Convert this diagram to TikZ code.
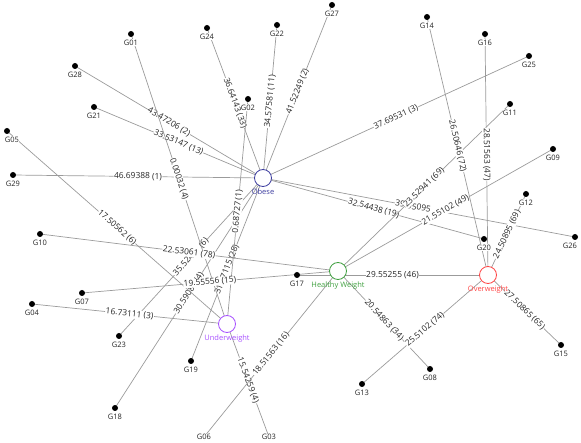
\documentclass[tikz,border=0pt]{standalone}
\usepackage{fontspec}
\setmainfont{Open Sans}
\usepackage{xcolor}
\usetikzlibrary{backgrounds}

\definecolor{obesecol}{RGB}{62,62,160}
\definecolor{healthycol}{RGB}{64,160,64}
\definecolor{overcol}{RGB}{255,70,70}
\definecolor{undercol}{RGB}{168,82,255}
\definecolor{linkcol}{RGB}{155,155,155}

\begin{document}
\begin{tikzpicture}[x=1pt, y=-1pt,
    leaf/.style={circle, fill=black, inner sep=0pt, minimum size=6pt},
    leaftext/.style={fill=white, inner sep=0.4pt, text=black!85, label distance=2pt,
        font=\fontsize{7.5}{8}\selectfont},
    hub/.style={circle, draw=#1, fill=white, line width=0.8pt, minimum size=17pt, inner sep=0pt},
    hubtext/.style={text=#1, inner sep=0.4pt, label distance=1.5pt,
        font=\fontsize{7.5}{8}\selectfont},
    link/.style={draw=linkcol, line width=0.7pt},
    wt/.style={sloped, fill=white, inner sep=0.5pt, text=black!85,
        font=\fontsize{8.4}{9}\selectfont}]

    \useasboundingbox (0,0) rectangle (581,443);

    % 1. the four weight classes
    \node[hub=obesecol, label={[hubtext=obesecol]below:Obese}] (obese) at (263,178) {};
    \node[hub=healthycol, label={[hubtext=healthycol]below:Healthy Weight}] (healthy) at (338,271) {};
    \node[hub=overcol, label={[hubtext=overcol]below:Overweight}] (over) at (488,275) {};
    \node[hub=undercol, label={[hubtext=undercol]below:Underweight}] (under) at (227,324) {};

    % 2. the groups G01 .. G29
    \node[leaf, label={[leaftext]below:G01}] (g01) at (131,34) {};
    \node[leaf, label={[leaftext]below:G02}] (g02) at (248,99) {};
    \node[leaf, label={[leaftext]center:G03}] (g03) at (269,437) {};
    \node[leaf, label={[leaftext]below:G04}] (g04) at (32,304) {};
    \node[leaf, label={[leaftext, xshift=5pt]below:G05}] (g05) at (7,131) {};
    \node[leaf, label={[leaftext]center:G06}] (g06) at (204,437) {};
    \node[leaf, label={[leaftext]below:G07}] (g07) at (82,293) {};
    \node[leaf, label={[leaftext]below:G08}] (g08) at (430,369) {};
    \node[leaf, label={[leaftext]below:G09}] (g09) at (553,149) {};
    \node[leaf, label={[leaftext]below:G10}] (g10) at (40,234) {};
    \node[leaf, label={[leaftext]below:G11}] (g11) at (510,104) {};
    \node[leaf, label={[leaftext]below:G12}] (g12) at (526,194) {};
    \node[leaf, label={[leaftext]below:G13}] (g13) at (362,384) {};
    \node[leaf, label={[leaftext]below:G14}] (g14) at (427,17) {};
    \node[leaf, label={[leaftext]below:G15}] (g15) at (561,345) {};
    \node[leaf, label={[leaftext]below:G16}] (g16) at (485,34) {};
    \node[leaf, label={[leaftext]below:G17}] (g17) at (297,275) {};
    \node[leaf, label={[leaftext]below:G18}] (g18) at (115,408) {};
    \node[leaf, label={[leaftext]below:G19}] (g19) at (191,361) {};
    \node[leaf, label={[leaftext]below:G20}] (g20) at (484,239) {};
    \node[leaf, label={[leaftext]below:G21}] (g21) at (94,107) {};
    \node[leaf, label={[leaftext]below:G22}] (g22) at (277,25) {};
    \node[leaf, label={[leaftext]below:G23}] (g23) at (119,336) {};
    \node[leaf, label={[leaftext]below:G24}] (g24) at (207,28) {};
    \node[leaf, label={[leaftext]below:G25}] (g25) at (529,56) {};
    \node[leaf, label={[leaftext, xshift=-5pt]below:G26}] (g26) at (575,237) {};
    \node[leaf, label={[leaftext]below:G27}] (g27) at (332,5) {};
    \node[leaf, label={[leaftext]below:G28}] (g28) at (75,66) {};
    \node[leaf, label={[leaftext]below:G29}] (g29) at (13,175) {};

    \begin{scope}[on background layer]
    % 3. Obese links
    \draw[link] (g18.center) -- node[wt] {30.59086 (4)} (obese.center);
    \draw[link] (g19.center) -- node[wt] {31.\hphantom{7}7115 (28)} (obese.center);
    \draw[link] (obese.center) -- node[wt] {32.54438 (19)} (g20.center);
    \draw[link] (g21.center) -- node[wt] {33.53147 (13)} (obese.center);
    \draw[link] (obese.center) -- node[wt] {34.57581 (11)} (g22.center);
    \draw[link] (g23.center) -- node[wt] {35.524\hphantom{00} (6)} (obese.center);
    \draw[link] (g24.center) -- node[wt] {36.64143 (33)} (obese.center);
    \draw[link] (obese.center) -- node[wt] {37.69531 (3)} (g25.center);
    \draw[link] (obese.center) -- node[wt] {39.95095\hphantom{ (0)}} (g26.center);
    \draw[link] (obese.center) -- node[wt] {41.52249 (2)} (g27.center);
    \draw[link] (g28.center) -- node[wt] {43.47206 (2)} (obese.center);
    \draw[link] (g29.center) -- node[wt] {46.69388 (1)} (obese.center);

    % 4. Underweight links
    \draw[link] (g01.center) -- node[wt] {0.00032 (4)} (under.center);
    \draw[link] (g02.center) -- node[wt] {0.68727 (1)} (under.center);
    \draw[link] (under.center) -- node[wt] {15.54259 (4)} (g03.center);
    \draw[link] (g04.center) -- node[wt] {16.73111 (3)} (under.center);
    \draw[link] (g05.center) -- node[wt] {17.50562 (6)} (under.center);

    % 5. Healthy Weight links
    \draw[link] (g06.center) -- node[wt] {18.51563 (16)} (healthy.center);
    \draw[link] (g07.center) -- node[wt] {19.55556 (15)} (healthy.center);
    \draw[link] (healthy.center) -- node[wt] {20.54863 (34)} (g08.center);
    \draw[link] (healthy.center) -- node[wt] {21.55102 (49)} (g09.center);
    \draw[link] (g10.center) -- node[wt] {22.53061 (78)} (healthy.center);
    \draw[link] (healthy.center) -- node[wt] {23.52941 (69)} (g11.center);

    % 6. Overweight links
    \draw[link] (over.center) -- node[wt] {24.50895 (69)} (g12.center);
    \draw[link] (g13.center) -- node[wt] {25.5102 (74)} (over.center);
    \draw[link] (g14.center) -- node[wt] {26.50646 (72)} (over.center);
    \draw[link] (over.center) -- node[wt] {27.50865 (65)} (g15.center);
    \draw[link] (g16.center) -- node[wt] {28.51563 (47)} (over.center);
    \draw[link] (g17.center) -- node[wt] {29.55255 (46)} (over.center);
    \end{scope}

\end{tikzpicture}
\end{document}
